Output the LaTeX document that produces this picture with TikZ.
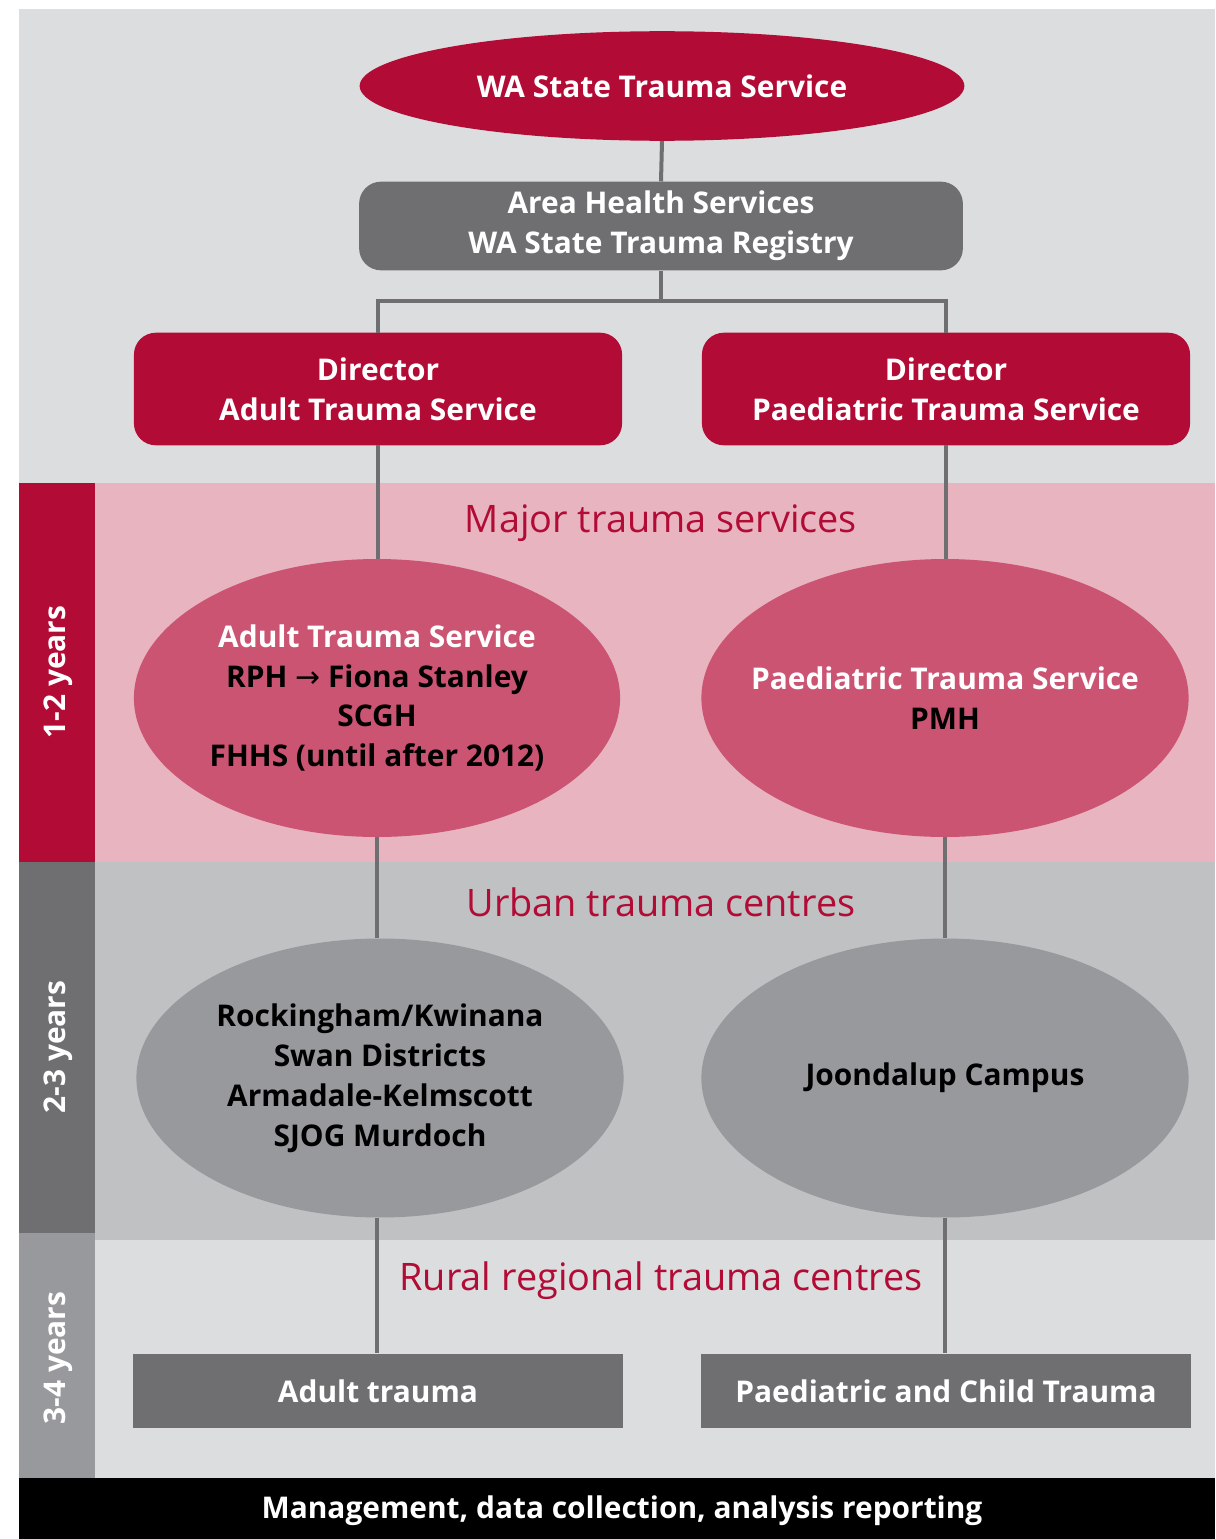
\documentclass[tikz,border=0pt]{standalone}
\usepackage{fontspec}
\setmainfont{Open Sans}
\newfontfamily\symfont{DejaVu Sans}
\usetikzlibrary{shapes.geometric}
\definecolor{bgA}{HTML}{DCDDDF}
\definecolor{bgB}{HTML}{C0C1C3}
\definecolor{pinkbg}{HTML}{E8B4C0}
\definecolor{wared}{HTML}{B20B35}
\definecolor{rose}{HTML}{CB5473}
\definecolor{dgray}{HTML}{6F6F71}
\definecolor{mgray}{HTML}{98999D}
\tikzset{
  nodefont/.style={font=\fontsize{30}{40}\selectfont\bfseries, align=center},
  titlefont/.style={font=\fontsize{38}{44}\selectfont, text=wared},
  yearfont/.style={font=\fontsize{30}{34}\selectfont\bfseries, text=white, rotate=90},
  redoval/.style={ellipse, fill=wared, text=white, nodefont, inner xsep=-40bp, inner ysep=0pt},
  redbox/.style={rounded corners=22, fill=wared, text=white, nodefont, inner sep=0pt},
  graybox/.style={fill=dgray, text=white, nodefont, inner sep=0pt},
  roseoval/.style={ellipse, fill=rose, nodefont, inner xsep=-40bp, inner ysep=0pt},
  grayoval/.style={ellipse, fill=mgray, nodefont, inner xsep=-40bp, inner ysep=0pt},
  link/.style={draw=dgray, line width=4bp},
}
\begin{document}
\begin{tikzpicture}[x=1bp,y=-1bp]
\useasboundingbox[fill=white] (0,0) rectangle (1215,1539);
% bands
\fill[bgA] (19,9) rectangle (1215,483);
\fill[pinkbg] (95,483) rectangle (1215,862);
\fill[wared] (19,483) rectangle (95,862);
\fill[bgB] (95,862) rectangle (1215,1240);
\fill[dgray] (19,862) rectangle (95,1233);
\fill[bgA] (95,1240) rectangle (1215,1478);
\fill[mgray] (19,1233) rectangle (95,1478);
\fill[black] (19,1478) rectangle (1215,1539);
\node[yearfont] (y1) at (58,672) {1-2 years};
\node[yearfont] (y2) at (58,1047) {2-3 years};
\node[yearfont] (y3) at (58,1358) {3-4 years};
\node[titlefont] (t1) at (661,523) {Major trauma services};
\node[titlefont] (t2) at (661,902) {Urban trauma centres};
\node[titlefont] (t3) at (661,1281) {Rural regional trauma centres};
\node[nodefont, text=white] (mgmt) at (622,1511) {Management, data collection, analysis reporting};
% nodes
\node[redoval, minimum width=607, minimum height=110] (wa) at (662,86) {WA State Trauma Service};
\node[graybox, rounded corners=22, minimum width=606, minimum height=89] (area) at (661,226) {Area Health Services\\WA State Trauma Registry};
\node[redbox, minimum width=490, minimum height=113] (da) at (378,389) {Director\\Adult Trauma Service};
\node[redbox, minimum width=490, minimum height=113] (dp) at (946,389) {Director\\Paediatric Trauma Service};
\node[roseoval, minimum width=488, minimum height=279] (ea) at (377,698) {\textcolor{white}{Adult Trauma Service}\\RPH {\symfont\mdseries →} Fiona Stanley\\SCGH\\FHHS (until after 2012)};
\node[roseoval, minimum width=489, minimum height=279] (ep) at (945,698) {\textcolor{white}{Paediatric Trauma Service}\\PMH};
\node[grayoval, minimum width=489, minimum height=280] (ga) at (380,1078) {Rockingham/Kwinana\\Swan Districts\\Armadale-Kelmscott\\SJOG Murdoch};
\node[grayoval, minimum width=489, minimum height=280] (gp) at (945,1078) {Joondalup Campus};
\node[graybox, minimum width=492, minimum height=75] (ba) at (378,1391) {Adult trauma};
\node[graybox, minimum width=492, minimum height=75] (bp) at (946,1391) {Paediatric and Child Trauma};
% connectors
\coordinate (split) at (661,301);
\draw[link] (wa.south) -- (area.north);
\draw[link] (area.south) -- (split);
\draw[link] (split) -| (da.north);
\draw[link] (split) -| (dp.north);
\draw[link] (da.south) -- (da.south |- ea.north);
\draw[link] (dp.south) -- (dp.south |- ep.north);
\draw[link] (ea.south) -- (ea.south |- ga.north);
\draw[link] (ep.south) -- (gp.north);
\draw[link] (ga.south -| ea.south) -- (ba.north -| ea.south);
\draw[link] (gp.south) -- (gp.south |- bp.north);
\end{tikzpicture}
\end{document}
